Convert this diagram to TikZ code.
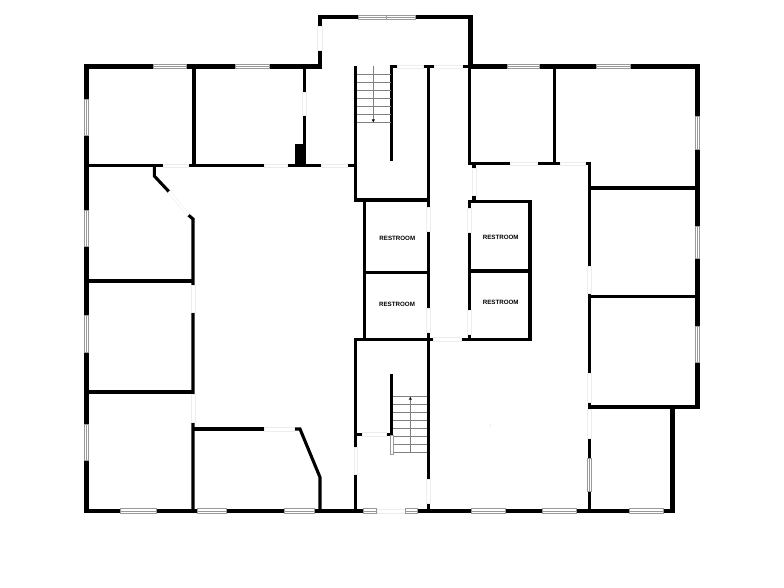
\documentclass[tikz,border=0pt]{standalone}
\usepackage{fontspec}
\setmainfont{Liberation Sans}
\usetikzlibrary{arrows.meta}
\definecolor{window_gray}{gray}{0.6}
\definecolor{door_gray}{gray}{0.93}
\tikzstyle{outer_wall} = [line width=4.6pt, line join=miter]
\tikzstyle{inner_wall} = [line width=3.1pt, line join=miter]
\tikzstyle{window} = [draw=window_gray, line width=0.7pt, fill=white]
\tikzstyle{door} = [draw=door_gray, line width=0.4pt, fill=white]
\tikzstyle{tread} = [draw=black!50, line width=0.6pt]
\tikzstyle{room_label} = [font=\bfseries\fontsize{6.2}{7}\selectfont, inner sep=0pt]
\begin{document}
\begin{tikzpicture}[x=1pt, y=-1pt]
        \useasboundingbox (0,0) rectangle (784,588);
        \draw [outer_wall] (86.5,66.5) -- (320,66.5) -- (320,17.2) -- (470.3,17.2) -- (470.3,66.5) -- (697.5,66.5) -- (697.5,407) -- (672.3,407) -- (672.3,511) -- (86.5,511) -- cycle;

        % left wing
        \draw [inner_wall] (194,66.5) -- (194,165.7);
        \draw [inner_wall] (86.5,165.7) -- (162.7,165.7);
        \draw [inner_wall] (188.3,165.7) -- (264,165.7);
        \draw [inner_wall] (287.3,165.7) -- (320.7,165.7);
        \draw [inner_wall] (347.3,165.7) -- (355.7,165.7);
        \draw [inner_wall] (304.3,66.5) -- (304.3,165.7);
        \fill (295.3,143.7) rectangle (306,165.7);
        \draw [inner_wall] (154.3,165.7) -- (154.3,176) -- (169,191.7);
        \draw [inner_wall] (188.3,215) -- (193,219) -- (193,511);
        \draw [inner_wall] (86.5,281) -- (193,281);
        \draw [inner_wall] (86.5,392) -- (193,392);
        \draw [inner_wall] (193,429) -- (264.3,429);
        \draw [inner_wall] (294,429) -- (300,429) -- (320,477.3) -- (320,511);

        % upper stair core
        \draw [inner_wall] (355.7,66.5) -- (355.7,200) -- (429.5,200);
        \draw [inner_wall] (391.7,66.5) -- (391.7,161);
        \draw [inner_wall] (390,66.5) -- (396.7,66.5);
        \draw [inner_wall] (422.7,66.5) -- (434,66.5);
        \draw [inner_wall] (462.3,66.5) -- (470.3,66.5);
        \draw [inner_wall] (428.3,66.5) -- (428.3,511);
        \foreach \y in {74.7,82.7,90.7,98.7,106.7,114.7,122.3}
            \draw [tread] (356.7,\y) -- (391,\y);
        \draw [tread] (373.3,66.5) -- (373.3,120);
        \fill (371.8,119.5) -- (374.8,119.5) -- (373.3,122.3) -- cycle;

        % restrooms
        \draw [inner_wall] (364.3,200) -- (364.3,339.3);
        \draw [inner_wall] (364.3,272.3) -- (428.3,272.3);
        \draw [inner_wall] (355.7,339.3) -- (433,339.3);
        \draw [inner_wall] (460.7,339.3) -- (530,339.3) -- (530,201.7) -- (468,201.7);
        \draw [inner_wall] (469.3,200) -- (469.3,339.3);
        \draw [inner_wall] (469.3,271) -- (530,271);
        \draw [inner_wall] (474,195.7) -- (474,201.7);
        \node (restroom_a) [room_label] at (397.3,238.3) {RESTROOM};
        \node (restroom_b) [room_label] at (397,304.3) {RESTROOM};
        \node (restroom_c) [room_label] at (500.7,237) {RESTROOM};
        \node (restroom_d) [room_label] at (500.7,302) {RESTROOM};

        % lower stair core
        \draw [inner_wall] (355.7,338) -- (355.7,511);
        \draw [inner_wall] (355.7,434.3) -- (361.7,434.3);
        \draw [inner_wall] (385.7,434.3) -- (392.7,434.3);
        \draw [inner_wall] (391.7,374) -- (391.7,434.3);
        \foreach \y in {396.7,404.7,412.7,420.7,428.7,436.7,444.7,452.3}
            \draw [tread] (393.3,\y) -- (427,\y);
        \draw [tread] (410.3,399) -- (410.3,452.3);
        \fill (408.8,399.6) -- (411.8,399.6) -- (410.3,396.8) -- cycle;
        \draw [window] (390,435.7) rectangle (393.3,454);

        % right wing
        \draw [inner_wall] (469.3,66.5) -- (469.3,163.7) -- (510,163.7);
        \draw [inner_wall] (537.3,163.7) -- (560,163.7);
        \draw [inner_wall] (585.3,163.7) -- (589.3,163.7) -- (589.3,511);
        \draw [inner_wall] (554.3,66.5) -- (554.3,163.7);
        \draw [inner_wall] (474,163.7) -- (474,168);
        \draw [inner_wall] (589.3,188) -- (697.5,188);
        \draw [inner_wall] (589.3,296.3) -- (697.5,296.3);
        \draw [inner_wall] (589.3,407) -- (672.3,407);
        \draw [door_gray, line width=0.8pt] (490,423.5) -- (490,426.5);

        % doors
        \foreach \xa/\xb/\y in {162.7/188.3/165.7, 264/287.3/165.7, 320.7/347.3/165.7, 397/422.7/66.5, 434/462.3/66.5, 510/537.3/163.7, 560/585.3/163.7, 433/460.7/339.3, 361.7/385.7/434.3, 264.3/294/429, 376.7/405/511}
            \draw [door] (\xa,\y-1.7) rectangle (\xb,\y+1.7);
        \foreach \x/\ya/\yb in {304.3/92.3/115, 474/168/195.7, 428.3/207/230.7, 428.3/308.3/331.7, 428.3/479.3/503, 469.3/208/231.7, 469.3/310/334, 589.3/266/292.7, 589.3/373.3/402.3, 589.3/409/438.3, 193/285/311.7, 193/394/421.7, 355.7/446.7/474}
            \draw [door] (\x-1.7,\ya) rectangle (\x+1.7,\yb);
        \draw [door] (320-2.4,26) rectangle (320+2.4,50.7);
        \draw [door] (170,190.6) -- (189.4,213.9) -- (187.2,216.1) -- (168,192.8) -- cycle;

        % windows
        \foreach \xa/\xb/\y in {153.3/186/66.5, 235/269/66.5, 358.3/386/17.2, 386/415/17.2, 507/539/66.5, 596/630/66.5, 120.7/156.7/511, 197/226.7/511, 284.3/314/511, 363.3/376.7/511, 405/417/511, 471/505.7/511, 542/576.7/511, 629.3/663.3/511} {
            \draw [window] (\xa,\y-2.3) rectangle (\xb,\y+2.3);
            \draw [window_gray, line width=0.6pt] (\xa,\y) -- (\xb,\y);
        }
        \foreach \x/\ya/\yb in {86.5/99.3/135.3, 86.5/210/246.7, 86.5/315/352.3, 86.5/424/460, 697.5/116/149, 697.5/226.7/258, 697.5/326/362, 589.3/458.3/491.7} {
            \draw [window] (\x-2.3,\ya) rectangle (\x+2.3,\yb);
            \draw [window_gray, line width=0.6pt] (\x,\ya) -- (\x,\yb);
        }
\end{tikzpicture}
\end{document}
